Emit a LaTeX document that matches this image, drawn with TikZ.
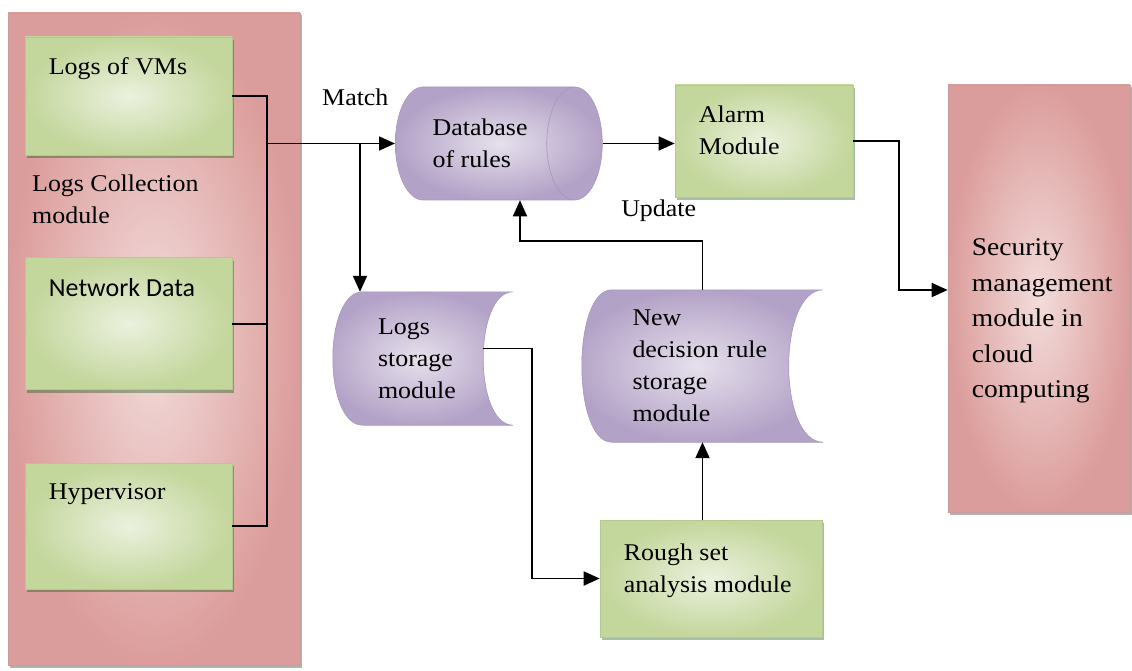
\documentclass[tikz,border=0pt]{standalone}
\usepackage{fontspec}
\setmainfont{Liberation Serif}[FakeStretch=1.08]
\newfontfamily\calibrifont{Carlito}
\usetikzlibrary{arrows.meta, positioning, shapes.geometric, shadows, backgrounds, calc}
\definecolor{RoseDark}{HTML}{D99694}
\definecolor{RoseLight}{HTML}{F2DCDB}
\definecolor{RoseEdge}{HTML}{C89C9B}
\definecolor{GreenDark}{HTML}{C3D69B}
\definecolor{GreenLight}{HTML}{EBF1DE}
\definecolor{GreenEdge}{HTML}{B5C98E}
\definecolor{PurpleDark}{HTML}{B3A2C7}
\definecolor{PurpleLight}{HTML}{E6E0EC}
\definecolor{PurpleEdge}{HTML}{A596C0}

\begin{document}
\begin{tikzpicture}[
  x=1pt, y=-1pt,
  every node/.style={font=\fontsize{24}{32}\selectfont},
  panel/.style={rectangle, draw=RoseEdge, line width=0.6pt, inner color=RoseLight, outer color=RoseDark!90!RoseLight,
    drop shadow={shadow xshift=1.5pt, shadow yshift=-2.5pt, fill=black, opacity=0.3}},
  module/.style={rectangle, draw=GreenEdge, line width=0.6pt, inner color=GreenLight, outer color=GreenDark,
    drop shadow={shadow xshift=2pt, shadow yshift=-3pt, fill=black!70!green, opacity=0.35}},
  boxtext/.style={anchor=north west, align=left, inner sep=0pt, xshift=24pt, yshift=-21pt},
  store/.style={rectangle, align=left},
  storefill/.style={draw=PurpleEdge, line width=0.6pt, inner color=PurpleLight, outer color=PurpleDark},
  wire/.style={line width=1.8pt},
  arrow/.style={wire, -{Triangle[length=16pt, width=14pt]}}
]
\useasboundingbox (0,0) rectangle (1132,671);

% logs collection panel
\node[panel, minimum width=292pt, minimum height=652pt] (lc) at (154,339) {};
\node[module, minimum width=207pt, minimum height=118pt,
  label={[boxtext]north west:Logs of VMs}] (vm) at (128.5,96) {};
\node[module, below=102pt of vm, minimum width=207pt, minimum height=132pt,
  label={[boxtext, font=\calibrifont\fontsize{26}{32}\selectfont]north west:Network Data}] (nd) {};
\node[module, below=73pt of nd, minimum width=207pt, minimum height=126pt,
  label={[boxtext]north west:Hypervisor}] (hv) {};
\node[anchor=north west, align=left, inner sep=0pt] (lcm) at (32,174.5) {Logs Collection\\module};

% rules, storage and analysis
\node[cylinder, storefill, minimum width=113pt, minimum height=207pt, aspect=1.0, align=left, anchor=west] (db) at (395,143.5) {Database\\of rules};
\node[store, minimum width=180pt, minimum height=133pt, text width=90pt] (ls) at (423,358.5) {Logs\\storage\\module};
\node[store, minimum width=241pt, minimum height=152pt, text width=140pt] (new) at (702.5,366) {New\\decision rule\\storage\\module};
\node[module, minimum width=178pt, minimum height=112pt,
  label={[boxtext]north west:Alarm\\Module}] (al) at (764,141) {};
\node[module, minimum width=222pt, minimum height=117pt,
  label={[boxtext, yshift=-3pt]north west:Rough set\\analysis module}] (rs) at (711,578.5) {};

% security panel
\node[panel, minimum width=182pt, minimum height=427pt,
  label={[boxtext, yshift=-133pt, font=\fontsize{25.5}{35.5}\selectfont]north west:Security\\management\\module in\\cloud\\computing}] (sec) at (1039,298.5) {};

\begin{scope}[on background layer]
\fill[white] (0,0) rectangle (1132,671);
\foreach \n/\d in {ls/40, new/46}
  \path[storefill] (\n.north east) -- ([xshift=30pt]\n.north west)
    .. controls ([xshift=-10pt]\n.north west) and ([xshift=-10pt]\n.south west) .. ([xshift=30pt]\n.south west)
    -- (\n.south east) .. controls ([xshift=-\d pt]\n.south east) and ([xshift=-\d pt]\n.north east) .. cycle;
\end{scope}

\coordinate (hub) at (267,143.5);
\coordinate (split) at (360,143.5);
\coordinate (upd) at (520,241);

\draw[wire] (vm.east) -| (hub |- hv.east) -- (hv.east);
\draw[wire] (nd.east) -- (nd.east -| hub);
\draw[arrow] (hub) -- node[above=34pt, pos=0.69]{Match} (db.west);
\draw[arrow] (split) -- (split |- ls.north);
\draw[arrow] (db.east) -- (db.east -| al.west);
\draw[arrow] (al.east) -- ++(46,0) |- ([yshift=8.5pt]sec.west);
\draw[arrow] (new.north) |- node[above=15pt, pos=0.62]{Update} (upd) -- (upd |- db.south);
\draw[arrow] ([xshift=-30pt, yshift=10pt]ls.east) -- ++(49,0) |- (rs.west);
\draw[arrow] (rs.north -| new.north) -- (new.south);
\end{tikzpicture}
\end{document}
